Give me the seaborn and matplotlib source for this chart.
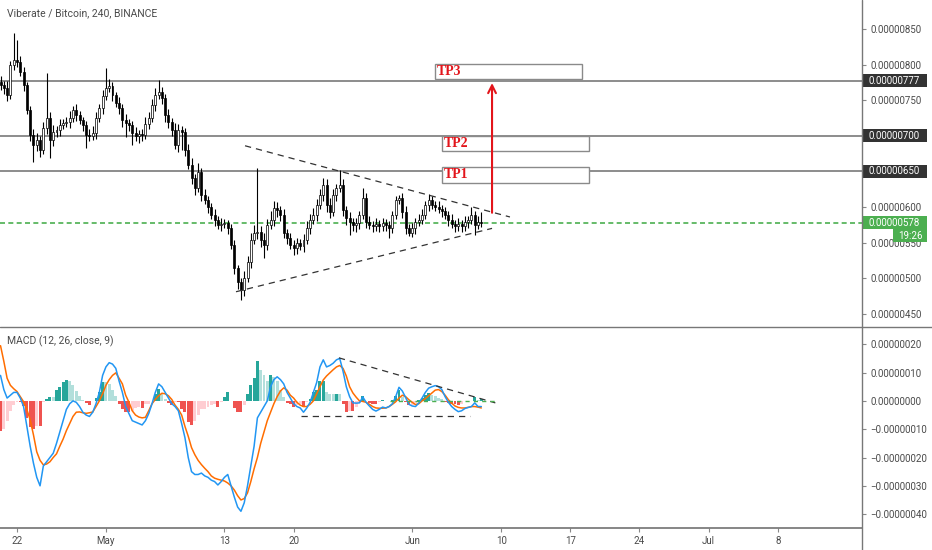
import numpy as np
import pandas as pd
import matplotlib
matplotlib.use("Agg")
import matplotlib.pyplot as plt
import matplotlib.dates as mdates
from matplotlib.patches import Rectangle
from matplotlib.lines import Line2D
import seaborn as sns

# --- data: VIB/BTC, 8h candles, prices in satoshi (1e-8 BTC) ---
bar_start = "2019-04-20 08:00"
first_open = 776
closes = [
    771, 767, 757, 799, 806, 804, 790, 771, 736, 701,
    687, 694, 680, 711, 725, 694, 705, 708, 715, 718,
    719, 725, 736, 729, 722, 715, 701, 700, 704, 725,
    739, 756, 767, 770, 757, 746, 739, 722, 718, 715,
    704, 700, 702, 701, 717, 725, 743, 757, 761, 753,
    729, 719, 708, 687, 708, 705, 680, 659, 641, 627,
    649, 617, 610, 600, 589, 582, 575, 576, 577, 570,
    547, 514, 495, 483, 500, 523, 554, 563, 565, 554,
    547, 575, 582, 599, 596, 589, 563, 556, 547, 542,
    549, 545, 554, 570, 582, 589, 603, 617, 631, 603,
    593, 617, 627, 631, 596, 585, 579, 575, 577, 589,
    613, 579, 575, 573, 576, 573, 577, 575, 570, 589,
    610, 613, 593, 570, 564, 570, 579, 582, 589, 603,
    610, 603, 600, 597, 594, 589, 582, 576, 573, 576,
    573, 579, 582, 589, 575, 579, 578,
]
wick_up = [
    8, 6, 10, 6, 38, 28, 8, 6, 5, 6,
    8, 10, 6, 8, 63, 8, 10, 6, 8, 6,
    8, 10, 6, 8, 6, 5, 6, 8, 10, 8,
    6, 8, 28, 10, 6, 5, 8, 6, 8, 6,
    6, 8, 6, 8, 10, 8, 8, 10, 17, 8,
    6, 8, 6, 10, 8, 6, 6, 8, 10, 6,
    13, 6, 8, 6, 5, 8, 6, 8, 6, 5,
    6, 6, 5, 6, 10, 8, 10, 12, 90, 8,
    10, 8, 12, 10, 8, 6, 8, 6, 8, 6,
    8, 6, 8, 10, 8, 10, 8, 8, 10, 8,
    10, 8, 6, 21, 8, 6, 8, 6, 8, 6,
    14, 6, 8, 6, 8, 6, 8, 6, 6, 6,
    6, 4, 6, 8, 6, 8, 6, 8, 8, 6,
    8, 6, 6, 8, 6, 6, 6, 8, 6, 8,
    6, 8, 6, 11, 6, 8, 14,
]
wick_dn = [
    6, 8, 8, 6, 6, 8, 6, 8, 6, 8,
    24, 8, 10, 6, 8, 25, 8, 6, 8, 6,
    6, 8, 6, 8, 6, 8, 18, 8, 6, 8,
    6, 8, 6, 6, 8, 6, 8, 10, 20, 8,
    17, 8, 10, 8, 6, 8, 6, 8, 6, 8,
    10, 8, 8, 6, 10, 25, 8, 6, 8, 10,
    6, 8, 6, 8, 6, 8, 6, 8, 6, 8,
    6, 8, 10, 14, 8, 6, 8, 6, 8, 10,
    19, 8, 6, 8, 10, 8, 6, 8, 6, 10,
    8, 6, 8, 6, 8, 6, 8, 6, 8, 10,
    8, 6, 8, 6, 8, 10, 18, 8, 10, 8,
    6, 8, 6, 8, 6, 8, 6, 8, 14, 6,
    6, 6, 8, 8, 5, 6, 8, 6, 6, 6,
    8, 6, 6, 6, 8, 6, 8, 6, 8, 6,
    8, 6, 8, 6, 14, 6, 6,
]
macd_line = [
    9, 4, 1, 2, 3, 3, 1, -2, -9, -16,
    -22, -27, -30, -23, -21.5, -20, -18.5, -15, -11, -7,
    -3, -1, 0, -0.5, -2, -4, -5, -5.5, -4, -1,
    3, 9, 12, 13.5, 13, 11.5, 7, 3, -2, -4.5,
    -7, -7.5, -8, -8.5, -7, -4.5, -1, 3, 6, 5,
    3, 1, -1, -2, -3.5, -8, -13, -20, -25, -26,
    -26, -25.5, -26.5, -27, -28, -28.5, -29.7, -28.5, -27, -26,
    -30, -34, -37.5, -39, -36, -30, -23, -16, -6, -4,
    -2, 0, 5, 7.5, 8.5, 7.5, 6, 3, 1, -1,
    -2, -2.5, -4, -2.5, -0.5, 3, 6.5, 12, 14.5, 12,
    12.5, 13.3, 14.5, 15, 10.5, 5, 1.5, -0.7, -0.8, -0.7,
    1.4, -0.5, -1.8, -3, -3.6, -3, -2.2, -2.5, -2, -1,
    1.5, 4.8, 3.5, 1.2, -1.2, -1.8, -2, -0.8, 1, 3,
    4.5, 5, 5.4, 5, 4, 1.5, -0.5, -2, -3, -3.8,
    -3.5, -2.7, -2.3, -2, -0.7, -2, -2,
]
signal_line = [
    19.5, 14, 8, 5.5, 4.3, 3.3, 1.5, -0.3, -3, -6.7,
    -12, -18, -21, -22.6, -22.3, -21.5, -20, -18.7, -16, -13.5,
    -10.5, -8, -5.5, -4, -3.9, -4.2, -4.4, -4.2, -3.9, -2,
    0, 2.5, 5.5, 7.5, 9, 9.9, 8, 6, 2, -0.5,
    -3.5, -5, -5.7, -6, -5.8, -3.5, -1, 0.5, 1.8, 2.7,
    2.5, 1.8, 0.5, -1.5, -3, -5, -9, -12.5, -16.5, -19,
    -21, -22.5, -23.8, -25, -26.5, -27.3, -27.7, -28, -28.3, -29,
    -30, -31.5, -33.5, -35, -34.5, -32.5, -28.5, -24, -20, -15,
    -11, -7, -4, -1, 1.5, 3.5, 4.6, 3.8, 2, 1,
    -0.5, -1.5, -2, -2, -1.2, 0, 2.5, 5, 7.4, 8.8,
    9.9, 11, 12, 12.5, 11.5, 8.8, 5, 2.8, 1.3, 0,
    -0.2, -0.5, -1.2, -2, -2.5, -2.6, -2.6, -2.5, -2, -1.2,
    -0.3, 1, 2, 1.5, 0.4, -0.5, -1.3, -1, 0, 0.8,
    1.8, 2.8, 3.8, 4, 3.3, 2, 0.4, -0.8, -1.8, -2.3,
    -2.5, -2.5, -2.3, -2, -2, -2.2, -2.5,
]

price_ticks = [450, 500, 550, 600, 650, 700, 750, 800, 850]
macd_ticks = [20, 10, 0, -10, -20, -30, -40]
date_ticks = ["2019-04-22", "2019-05-01", "2019-05-13", "2019-05-20", "2019-06-01",
              "2019-06-10", "2019-06-17", "2019-06-24", "2019-07-01", "2019-07-08"]
date_labels = ["22", "May", "13", "20", "Jun", "10", "17", "24", "Jul", "8"]

levels = [777, 700, 650]
last_price = 578
countdown = "19:26"

tp_names = ["TP1", "TP2", "TP3"]
tp_start = ["2019-06-04 00:00", "2019-06-04 00:00", "2019-06-03 07:00"]
tp_end = ["2019-06-18 22:00", "2019-06-18 22:00", "2019-06-18 05:00"]
tp_low = [634, 679, 780]
tp_high = [656, 700, 801]

# triangle drawn on the chart (date, price)
tri_upper = [("2019-05-15 02:00", 686), ("2019-06-10 21:30", 586)]
tri_lower = [("2019-05-14 04:00", 481), ("2019-06-09 02:00", 570)]
arrow_at = ("2019-06-09 02:00", 588, 778)
macd_upper = [("2019-05-24 14:00", 15.2), ("2019-06-09 10:00", -0.7)]
macd_lower = [("2019-05-20 19:00", -5.3), ("2019-06-06 20:00", -5.3)]
macd_zero_seg = ["2019-05-29 17:00", "2019-06-09 10:00"]


def dnum(s):
    return mdates.date2num(pd.Timestamp(s))


dates = pd.date_range(bar_start, periods=len(closes), freq="8h")
x = mdates.date2num(dates)
c = np.array(closes, dtype=float)
o = np.r_[first_open, c[:-1]]
hi = np.maximum(o, c) + np.array(wick_up)
lo = np.minimum(o, c) - np.array(wick_dn)
macd = np.array(macd_line)
sig = np.array(signal_line)
hist = macd - sig

sns.set_theme(style="white")
plt.rcParams["font.family"] = ["Roboto", "DejaVu Sans"]

W, H = 932, 550
fig = plt.figure(figsize=(W / 100, H / 100), dpi=100, facecolor="white")
ax1 = fig.add_axes([0, (H - 327) / H, 862 / W, 327 / H])
ax2 = fig.add_axes([0, 22 / H, 862 / W, (528 - 327) / H], sharex=ax1)

x0 = dnum("2019-04-22")
ax1.set_xlim(x0 - 1.72, x0 + 85.53)
ax1.set_ylim(431.5, 890.7)
ax2.set_ylim(-44.9, 26.1)

line_col = "#777777"
txt_col = "#4a4a4a"

# --- candles ---
up = c >= o
ax1.vlines(x, lo, hi, color="black", lw=0.8, zorder=3)
ax1.bar(x, np.maximum(np.abs(c - o), 0.8), bottom=np.minimum(o, c), width=0.2,
        color=np.where(up, "white", "black"), edgecolor="black", linewidth=0.5, zorder=4)

# --- levels & drawings ---
for lv in levels:
    ax1.axhline(lv, color="#6e6e6e", lw=1.1, zorder=2)
ax1.axhline(last_price, color="#4caf50", lw=1.2, ls=(0, (3, 2)), zorder=2)

for (a, b) in [tri_upper, tri_lower]:
    ax1.plot([dnum(a[0]), dnum(b[0])], [a[1], b[1]], color="#333333", lw=0.9,
             ls=(0, (5, 4)), zorder=5)

for name, s, e, yl, yh in zip(tp_names, tp_start, tp_end, tp_low, tp_high):
    ax1.add_patch(Rectangle((dnum(s), yl), dnum(e) - dnum(s), yh - yl, facecolor="white",
                            edgecolor="#8a8a8a", lw=1.0, zorder=6))
    ax1.text(dnum(s) + 0.2, (yl + yh) / 2, name, color="#e3151b", fontsize=10,
             fontweight="bold", family=["Liberation Serif", "DejaVu Serif"],
             va="center", ha="left", zorder=7)

ax1.annotate("", xy=(dnum(arrow_at[0]), arrow_at[2]), xytext=(dnum(arrow_at[0]), arrow_at[1]),
             arrowprops=dict(arrowstyle="->", color="#e3151b", lw=1.5, mutation_scale=14),
             zorder=7)

# --- MACD ---
prev = np.r_[hist[0], hist[:-1]]
hcol = np.where(hist >= 0, np.where(hist > prev, "#26a69a", "#b2dfdb"),
                np.where(hist > prev, "#ffcdd2", "#ef5350"))
ax2.bar(x, hist, width=0.3, color=hcol, linewidth=0, zorder=2)
sns.lineplot(x=x, y=macd, ax=ax2, color="#2196f3", linewidth=1.1, zorder=4)
sns.lineplot(x=x, y=sig, ax=ax2, color="#ff6d00", linewidth=1.1, zorder=3)
for (a, b) in [macd_upper, macd_lower]:
    ax2.plot([dnum(a[0]), dnum(b[0])], [a[1], b[1]], color="#333333", lw=0.9,
             ls=(0, (5, 4)), zorder=5)
ax2.plot([dnum(macd_zero_seg[0]), dnum(macd_zero_seg[1])], [0, 0], color="#4caf50",
         lw=1.0, ls=(0, (3, 3)), zorder=5)

# --- axes styling ---
for ax in (ax1, ax2):
    ax.set_facecolor("white")
    for sp in ax.spines.values():
        sp.set_visible(False)
    ax.yaxis.tick_right()
    ax.tick_params(axis="y", direction="out", length=3, width=0.8, color="#888888",
                   labelsize=7, labelcolor=txt_col, pad=3, right=True, left=False)
    ax.set_ylabel("")
    ax.grid(False)

# levels that carry a tag on the scale show the tag instead of the plain label
ax1.set_yticks(price_ticks)
ax1.set_yticklabels(["" if v in levels else f"{v * 1e-8:.8f}" for v in price_ticks])
ax1.tick_params(axis="x", bottom=False, labelbottom=False)
ax2.set_yticks(macd_ticks)
ax2.set_yticklabels([f"{v * 1e-8:.8f}".replace("-", "\u2212") for v in macd_ticks])
ax2.set_xticks([dnum(d) for d in date_ticks])
ax2.set_xticklabels(date_labels)
ax2.tick_params(axis="x", direction="out", length=3, width=0.8, color="#888888",
                labelsize=7, labelcolor=txt_col, pad=3, bottom=True)
ax2.spines["bottom"].set_visible(True)
ax2.spines["bottom"].set_color(line_col)
ax2.set_xlabel("")


# price tags on the right scale
def tag(ax, y, text, color, h, x_from=1.0, x_to=927 / 862, center=False):
    tr = ax.get_yaxis_transform()
    ax.add_patch(Rectangle((x_from, y - h / 2), x_to - x_from, h, transform=tr,
                           facecolor=color, edgecolor="none", clip_on=False, zorder=8))
    tx = (x_from + x_to) / 2 if center else x_from + 6 / 862
    ax.text(tx, y, text, transform=tr, color="white", fontsize=7, va="center",
            ha="center" if center else "left", clip_on=False, zorder=9)


ph = 13 * 1.4045
for lv in levels:
    tag(ax1, lv, f"{lv * 1e-8:.8f}", "#333333", ph)
tag(ax1, last_price, f"{last_price * 1e-8:.8f}", "#4caf50", ph)
tag(ax1, last_price - ph, countdown, "#4caf50", ph, x_from=893 / 862, center=True)

# frame lines
fig.add_artist(Line2D([0, 1], [(H - 327) / H] * 2, color=line_col, lw=1.0))
fig.add_artist(Line2D([862 / W] * 2, [0, 1], color=line_col, lw=1.0))

fig.text(7 / W, 1 - 13 / H, "Viberate / Bitcoin, 240, BINANCE", fontsize=7.5,
         color=txt_col, va="center", ha="left")
fig.text(7 / W, 1 - 341 / H, "MACD (12, 26, close, 9)", fontsize=7.5,
         color=txt_col, va="center", ha="left")

fig.savefig("out.png", dpi=100, facecolor="white")
